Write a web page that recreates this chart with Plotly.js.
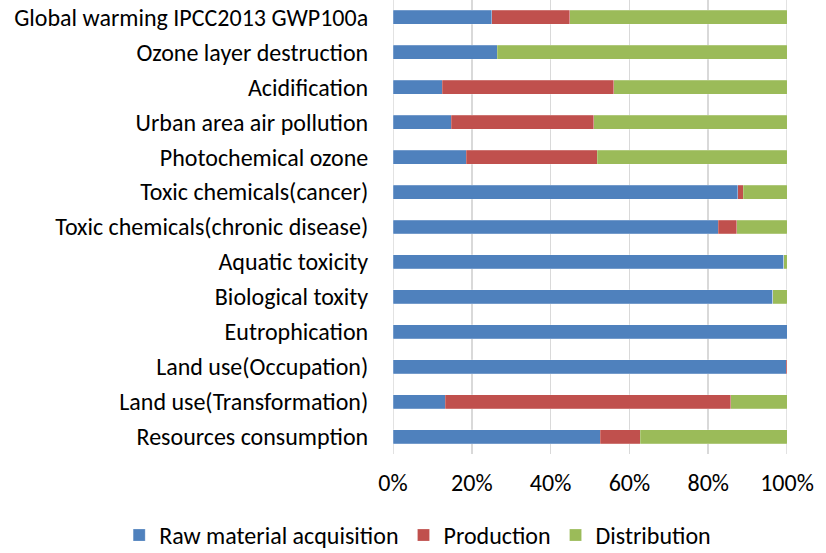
<!DOCTYPE html>
<html><head><meta charset="utf-8">
<script src="https://cdn.plot.ly/plotly-3.0.1.min.js"></script>
<style>html,body{margin:0;padding:0;background:#fff;}#chart{width:826px;height:553px;}</style>
</head><body><div id="chart"></div>
<script>
const categories = [
  "Global warming IPCC2013 GWP100a",
  "Ozone layer destruction",
  "Acidification",
  "Urban area air pollution",
  "Photochemical ozone",
  "Toxic chemicals(cancer)",
  "Toxic chemicals(chronic disease)",
  "Aquatic toxicity",
  "Biological toxity",
  "Eutrophication",
  "Land use(Occupation)",
  "Land use(Transformation)",
  "Resources consumption"
];
const rawMaterial = [25.1, 26.4, 12.5, 14.8, 18.6, 87.5, 82.5, 99.2, 96.4, 100.0, 99.8, 13.2, 52.6];
const production  = [19.8, 0.0, 43.5, 36.2, 33.2, 1.4, 4.8, 0.0, 0.0, 0.0, 0.2, 72.5, 10.1];
const distribution= [55.1, 73.6, 44.0, 49.0, 48.2, 11.1, 12.7, 0.8, 3.6, 0.0, 0.0, 14.3, 37.3];
const seriesNames = ["Raw material acquisition", "Production", "Distribution"];
const tickVals = [0, 20, 40, 60, 80, 100];
const tickText = ["0%", "20%", "40%", "60%", "80%", "100%"];

const colors = ["#4F81BD", "#C0504D", "#9BBB59"];
const series = [rawMaterial, production, distribution];
const traces = series.map((vals, i) => ({
  type: "bar", orientation: "h",
  name: seriesNames[i], y: categories, x: vals,
  marker: {color: colors[i], line: {color: "rgba(255,255,255,0.35)", width: 0.6}},
  hoverinfo: "skip"
}));
const font = "Carlito, Lato, 'Open Sans', sans-serif";
const layout = {
  width: 826, height: 553,
  margin: {l: 393, r: 39, t: 0, b: 99, autoexpand: false},
  barmode: "stack", bargap: 0.6,
  paper_bgcolor: "#fff", plot_bgcolor: "#fff",
  font: {family: font, size: 24, color: "#000"},
  xaxis: {
    range: [0, 100], tickvals: tickVals, ticktext: tickText,
    showgrid: true, gridcolor: "#d9d9d9", gridwidth: 1.5, zeroline: false,
    ticks: "outside", ticklen: 7, tickcolor: "rgba(0,0,0,0)",
    tickfont: {family: font, size: 24, color: "#000"}, fixedrange: true
  },
  yaxis: {
    autorange: "reversed", type: "category",
    ticks: "outside", ticklen: 19, tickcolor: "rgba(0,0,0,0)",
    showgrid: false, zeroline: false,
    tickfont: {family: font, size: 24, color: "#000"}, fixedrange: true
  },
  shapes: [
    {type: "line", xref: "x", yref: "paper", x0: 0, x1: 0, y0: 0, y1: 1, line: {color: "#d9d9d9", width: 1.5}, layer: "below"},
    {type: "line", xref: "x", yref: "paper", x0: 100, x1: 100, y0: 0, y1: 1, line: {color: "#d9d9d9", width: 1.5}, layer: "below"}
  ],
  legend: {
    orientation: "h", xref: "paper", yref: "paper",
    x: -0.695, xanchor: "left", y: -0.229, yanchor: "bottom",
    font: {family: font, size: 24, color: "#000"}, traceorder: "normal"
  },
  showlegend: true
};
Plotly.newPlot("chart", traces, layout, {displayModeBar: false, staticPlot: true});
</script></body></html>
